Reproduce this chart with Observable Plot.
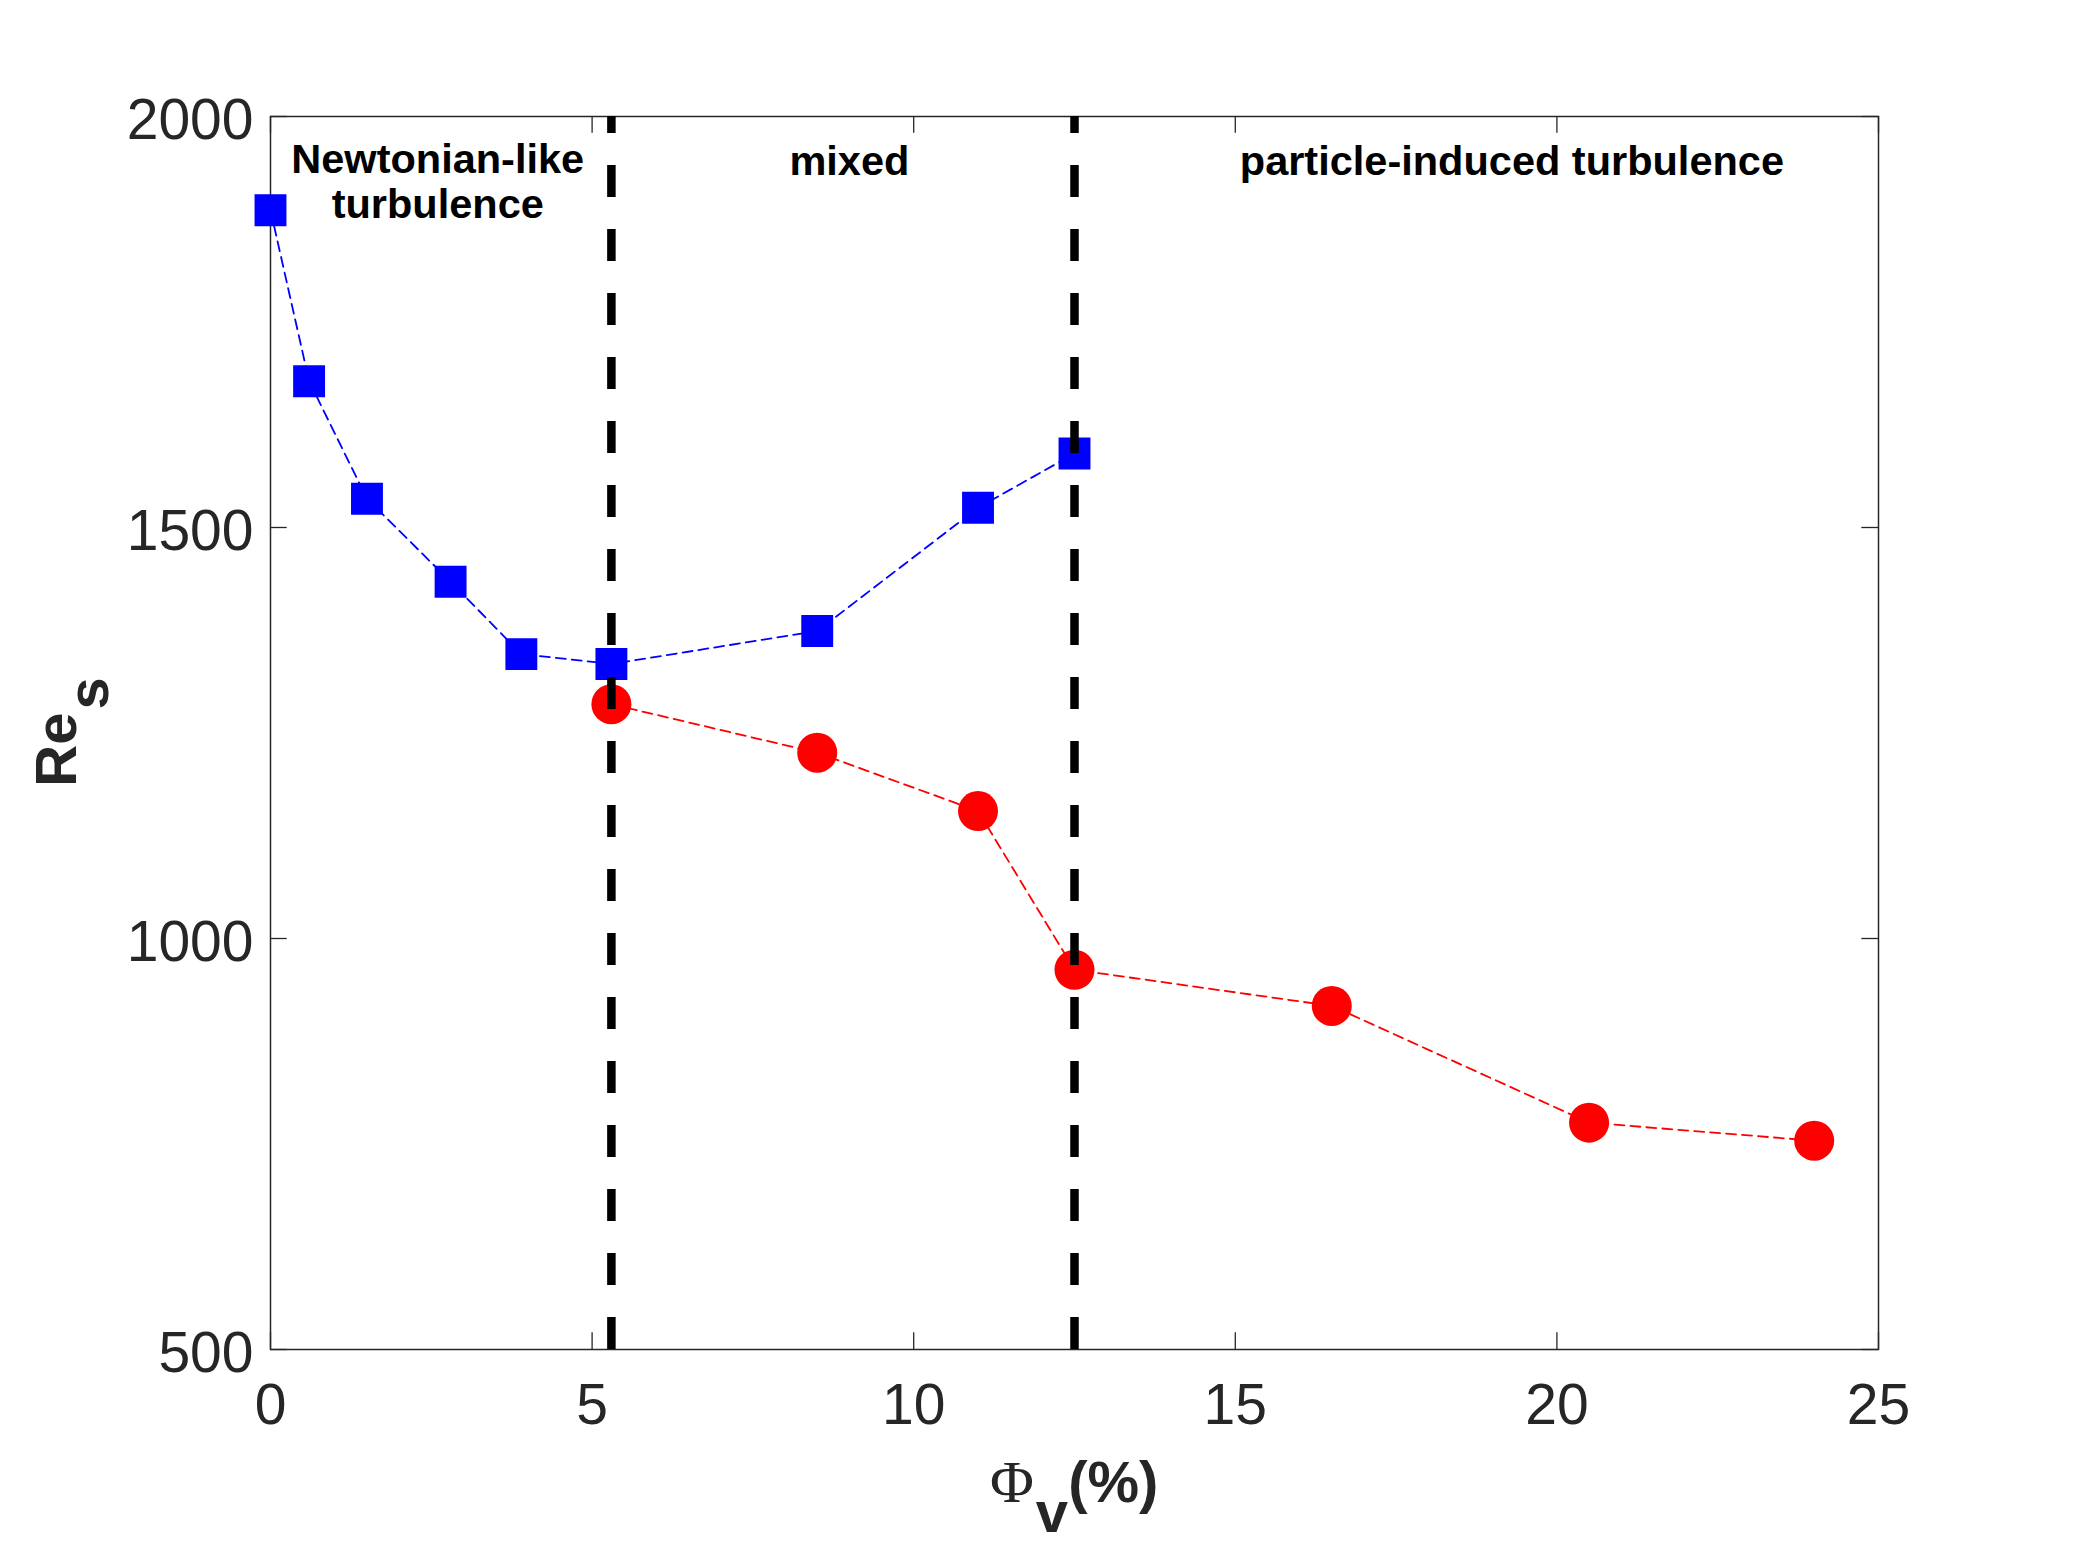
<!DOCTYPE html>
<html>
<head>
<meta charset="utf-8">
<script src="https://cdn.jsdelivr.net/npm/d3@7"></script>
<script src="https://cdn.jsdelivr.net/npm/@observablehq/plot@0.6"></script>
<style>
  html, body { margin: 0; padding: 0; background: #fff; }
  #chart { width: 2075px; height: 1544px; }
</style>
</head>
<body>
<div id="chart"></div>
<script>
// ---- data ----
const blueX = [0, 0.6, 1.5, 2.8, 3.9, 5.3, 8.5, 11, 12.5];
const blueY = [1886, 1678, 1535, 1434, 1346, 1334, 1374, 1524, 1590];
const redX = [5.3, 8.5, 11, 12.5, 16.5, 20.5, 24];
const redY = [1285, 1226, 1155, 962, 918, 776, 754];
const boundaries = [5.3, 12.5];
const xTicks = [0, 5, 10, 15, 20, 25];
const yTicks = [500, 1000, 1500, 2000];
const xDomain = [0, 25];
const yDomain = [500, 2000];
const regionText = ["Newtonian-like\nturbulence", "mixed", "particle-induced turbulence"];
const regionX = [2.6, 9.0, 19.3];
const regionY = [1876, 1929, 1929];

const blue = blueX.map((x, i) => ({x, y: blueY[i]}));
const red = redX.map((x, i) => ({x, y: redY[i]}));
const regions = regionText.map((t, i) => ({t, x: regionX[i], y: regionY[i]}));

const W = 2075, H = 1544;
const mL = 270, mR = 197, mT = 116, mB = 195;
const innerW = W - mL - mR, innerH = H - mT - mB;
const tickLen = 16.7;
const axisColor = "#262626";

const plot = Plot.plot({
  width: W,
  height: H,
  marginLeft: mL, marginRight: mR, marginTop: mT, marginBottom: mB,
  style: {fontFamily: "'Liberation Sans', Arial, sans-serif", color: axisColor, background: "#fff", overflow: "visible"},
  x: {domain: xDomain, ticks: xTicks},
  y: {domain: yDomain, ticks: yTicks},
  marks: [
    Plot.frame({stroke: axisColor, strokeWidth: 1.5}),
    Plot.axisX(xTicks, {anchor: "bottom", tickSize: 0, tickPadding: 34, fontSize: 57, label: null, fill: axisColor, tickFormat: d => String(d)}),
    Plot.axisY(yTicks, {anchor: "left", tickSize: 0, tickPadding: 17, fontSize: 57, label: null, fill: axisColor, dy: 4, tickFormat: d => String(d)}),
    // inward ticks on all four sides
    Plot.tickX(xTicks, {x: d => d, insetTop: innerH - tickLen, stroke: axisColor, strokeWidth: 1.3}),
    Plot.tickX(xTicks, {x: d => d, insetBottom: innerH - tickLen, stroke: axisColor, strokeWidth: 1.3}),
    Plot.tickY(yTicks, {y: d => d, insetRight: innerW - tickLen, stroke: axisColor, strokeWidth: 1.3}),
    Plot.tickY(yTicks, {y: d => d, insetLeft: innerW - tickLen, stroke: axisColor, strokeWidth: 1.3}),
    // series lines
    Plot.line(blue, {x: "x", y: "y", stroke: "#0000ff", strokeWidth: 1.8, strokeDasharray: "10,6"}),
    Plot.line(red, {x: "x", y: "y", stroke: "#ff0000", strokeWidth: 1.8, strokeDasharray: "10,6"}),
    // markers
    Plot.dot(blue, {x: "x", y: "y", symbol: "square", r: 18, fill: "#0000ff", stroke: "none"}),
    Plot.dot(red, {x: "x", y: "y", symbol: "circle", r: 20, fill: "#ff0000", stroke: "none"}),
    // regime boundaries
    Plot.ruleX(boundaries, {x: d => d, y1: yDomain[0], y2: yDomain[1], stroke: "#000", strokeWidth: 8.5, strokeDasharray: "32,32", strokeLinecap: "butt"}),
    // regime labels
    Plot.text(regions, {x: "x", y: "y", text: "t", fontSize: 41.5, lineHeight: 1.1, fontWeight: "bold", lineAnchor: "bottom", fill: "#000"})
  ]
});

document.getElementById("chart").appendChild(plot);

// axis titles with subscripts
const svg = d3.select(plot);
const yl = svg.append("text")
  .attr("transform", "translate(76,732) rotate(-90)")
  .attr("text-anchor", "middle")
  .attr("fill", axisColor)
  .attr("font-family", "'Liberation Sans', Arial, sans-serif")
  .attr("font-weight", "bold")
  .attr("font-size", 58);
yl.append("tspan").text("Re");
yl.append("tspan").attr("dy", 32).attr("dx", 3).text("s");

const xl = svg.append("text")
  .attr("x", 990).attr("y", 1502)
  .attr("text-anchor", "start")
  .attr("fill", axisColor)
  .attr("font-size", 58);
xl.append("tspan").attr("font-family", "'Liberation Serif', 'Times New Roman', serif").attr("font-size", 60).text("Φ");
xl.append("tspan").attr("dy", 30).attr("dx", 2).attr("font-family", "'Liberation Sans', Arial, sans-serif").attr("font-weight", "bold").text("v");
xl.append("tspan").attr("dy", -30).attr("font-family", "'Liberation Sans', Arial, sans-serif").attr("font-weight", "bold").text("(%)");
</script>
</body>
</html>
